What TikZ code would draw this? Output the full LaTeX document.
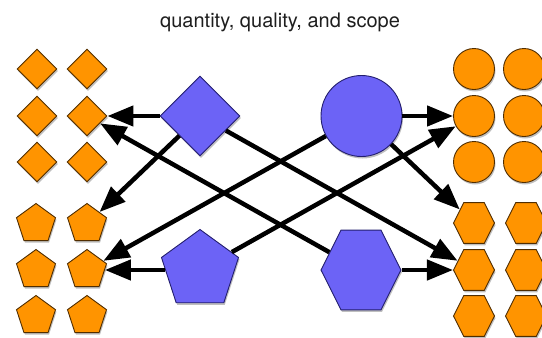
\documentclass[tikz,border=0pt]{standalone}
\usepackage{fontspec}
\setmainfont{TeX Gyre Heros}
\usetikzlibrary{shapes.geometric,arrows.meta,shadows}
\definecolor{org}{RGB}{255,148,0}
\definecolor{orgline}{RGB}{80,45,0}
\definecolor{pur}{RGB}{108,99,246}
\definecolor{purline}{RGB}{35,30,110}
\definecolor{titlec}{RGB}{30,30,30}
\begin{document}
\begin{tikzpicture}[x=1pt,y=-1pt,
  shad/.style={drop shadow={shadow xshift=1pt,shadow yshift=-2pt,opacity=0.25,fill=black}},
  sm/.style={draw=orgline, fill=org, line width=0.9pt, inner sep=0pt, shad},
  bg/.style={draw=purline, fill=pur, line width=0.9pt, inner sep=0pt, shad},
  dia/.style={diamond, minimum width=#1, minimum height=#1},
  pent/.style={regular polygon, regular polygon sides=5, minimum size=#1},
  hexa/.style={regular polygon, regular polygon sides=6, minimum size=#1, yscale=1.15},
  circ/.style={circle, minimum size=#1},
  arr/.style={line width=4.5pt, -{Triangle[length=26pt,width=20pt]}}
]
\useasboundingbox (0,0) rectangle (542,338);
\node[font=\fontsize{20}{24}\selectfont, text=titlec, anchor=base] (title) at (280,27) {quantity, quality, and scope};

% small diamonds
\node[sm,dia=40] (D11) at (37,69) {};
\node[sm,dia=40] (D12) at (87,69) {};
\node[sm,dia=40] (D21) at (37,116) {};
\node[sm,dia=40] (D22) at (87,116) {};
\node[sm,dia=40] (D31) at (37,162) {};
\node[sm,dia=40] (D32) at (87,162) {};
% small pentagons
\node[sm,pent=41] (P11) at (36,224) {};
\node[sm,pent=41] (P12) at (87,224) {};
\node[sm,pent=41] (P21) at (36,270) {};
\node[sm,pent=41] (P22) at (87,270) {};
\node[sm,pent=41] (P31) at (36,316) {};
\node[sm,pent=41] (P32) at (87,316) {};
% small circles
\node[sm,circ=41] (C11) at (474,69) {};
\node[sm,circ=41] (C12) at (524,69) {};
\node[sm,circ=41] (C21) at (474,116) {};
\node[sm,circ=41] (C22) at (524,116) {};
\node[sm,circ=41] (C31) at (474,162) {};
\node[sm,circ=41] (C32) at (524,162) {};
% small hexagons
\node[sm,hexa=41] (H11) at (474,223) {};
\node[sm,hexa=41] (H12) at (526,223) {};
\node[sm,hexa=41] (H21) at (474,270) {};
\node[sm,hexa=41] (H22) at (526,270) {};
\node[sm,hexa=41] (H31) at (474,316) {};
\node[sm,hexa=41] (H32) at (526,316) {};

% big shapes
\node[bg,dia=80] (BD) at (200,116) {};
\node[bg,circ=81] (BC) at (361.5,116) {};
\node[bg,pent=81] (BP) at (200,270) {};
\node[bg,hexa=80] (BH) at (361,270) {};

% arrows
\draw[arr] (BD) -- (D22);
\draw[arr] (BD) -- (P12);
\draw[arr] (BD) -- (H21);
\draw[arr] (BC) -- (P22);
\draw[arr] (BC) -- (C21);
\draw[arr] (BC) -- (H11);
\draw[arr] (BP) -- (C21);
\draw[arr] (BP) -- (P22);
\draw[arr] (BH) -- (D22);
\draw[arr] (BH) -- (H21);
\end{tikzpicture}
\end{document}
